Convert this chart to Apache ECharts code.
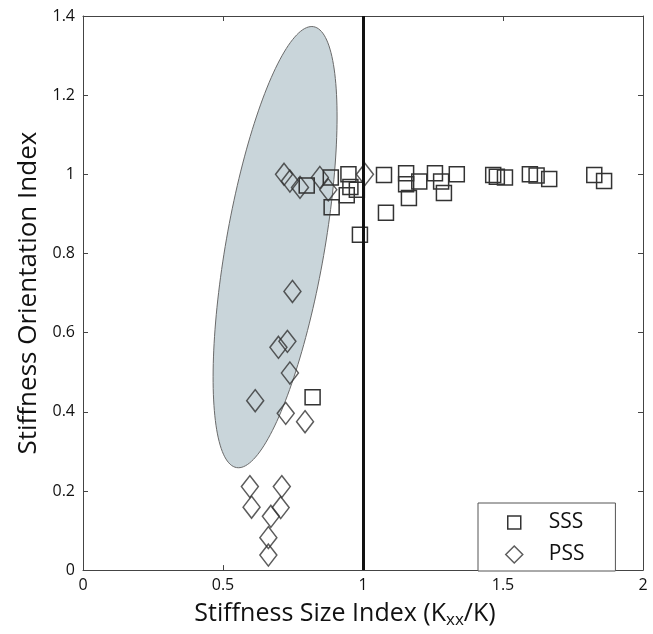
<!DOCTYPE html>
<html>
<head>
<meta charset="utf-8">
<script src="https://cdn.jsdelivr.net/npm/echarts@6/dist/echarts.min.js"></script>
<style>html,body{margin:0;padding:0;background:#fff;}#c{width:653px;height:634px;}</style>
</head>
<body>
<div id="c"></div>
<script>
// SSS (squares): [stiffness size index, stiffness orientation index]
var sssData = [
  [0.799,0.972],[0.885,0.992],[0.948,1.000],[0.942,0.947],[0.978,0.961],[0.955,0.968],
  [0.888,0.917],[0.989,0.847],[1.075,0.998],[1.082,0.903],[1.154,1.003],[1.154,0.975],
  [1.201,0.982],[1.164,0.940],[1.257,1.003],[1.279,0.982],[1.289,0.953],[1.335,1.000],
  [1.465,0.998],[1.478,0.994],[1.507,0.992],[1.596,1.000],[1.620,0.997],[1.665,0.988],
  [1.826,0.998],[1.861,0.983],[0.820,0.437]
];
// PSS (diamonds)
var pssData = [
  [0.718,1.000],[0.739,0.983],[0.775,0.967],[0.846,0.992],[0.876,0.961],[1.007,1.000],
  [0.748,0.704],[0.698,0.563],[0.730,0.578],[0.739,0.498],[0.615,0.428],[0.724,0.396],
  [0.793,0.375],[0.596,0.211],[0.602,0.159],[0.710,0.211],[0.706,0.158],[0.671,0.136],
  [0.662,0.082],[0.662,0.038]
];
// Shaded ellipse: centre and two conjugate semi-axis vectors (data units)
var ellipseCenter = [0.686, 0.816];
var ellipseAxisU = [0.1375, 0.557];
var ellipseAxisV = [0.1735, -0.021];
// reference line
var refLineX = 1;
var xTicks = [0, 0.5, 1, 1.5, 2];
var yTicks = [0, 0.2, 0.4, 0.6, 0.8, 1, 1.2, 1.4];

var FONT = '"Open Sans", "Noto Sans", sans-serif';
var markColor = '#333';
var diamondPath = 'path://M0,-11 L8.5,0 L0,11 L-8.5,0 Z';
var legendDiamond = 'path://M0,-9.5 M0,-8.5 L8.5,0 L0,8.5 L-8.5,0 Z M0,9.5';
var legendSquare = 'path://M-2,-3 M0,0 L13,0 L13,13 L0,13 Z M15,16';

var chart = echarts.init(document.getElementById('c'), null, {renderer:'canvas'});

function axisCommon(){
  return {
    axisLine:{show:true, onZero:false, lineStyle:{color:'#444', width:1}},
    axisTick:{show:true, inside:true, length:5, lineStyle:{color:'#444', width:1}},
    splitLine:{show:false}
  };
}

var option = {
  backgroundColor:'#fff',
  animation:false,
  grid:{left:83, top:16, right:10, bottom:58, containLabel:false},
  xAxis:[
    Object.assign({
      type:'value', min:xTicks[0], max:xTicks[xTicks.length-1], interval:0.5, position:'bottom',
      axisLabel:{color:'#111', fontSize:16, fontFamily:FONT, margin:7,
        formatter:function(v){return String(v);}},
      name:'{a|Stiffness Size Index (K}{s|xx}{a|/K)}',
      nameLocation:'middle', nameGap:25,
      nameTextStyle:{padding:[0,36,0,0], rich:{
        a:{fontSize:25, fontFamily:FONT, color:'#111', lineHeight:30},
        s:{fontSize:17, fontFamily:FONT, color:'#111', lineHeight:30, padding:[14,0,0,0]}
      }}
    }, axisCommon()),
    Object.assign({
      type:'value', min:xTicks[0], max:xTicks[xTicks.length-1], interval:0.5, position:'top',
      axisLabel:{show:false}
    }, axisCommon())
  ],
  yAxis:[
    Object.assign({
      type:'value', min:yTicks[0], max:yTicks[yTicks.length-1], interval:0.2, position:'left',
      axisLabel:{color:'#111', fontSize:16, fontFamily:FONT, margin:8,
        formatter:function(v){return String(Math.round(v*10)/10);}},
      name:'Stiffness Orientation Index', nameLocation:'middle', nameGap:40,
      nameTextStyle:{fontSize:26, fontFamily:FONT, color:'#111'}
    }, axisCommon()),
    Object.assign({
      type:'value', min:yTicks[0], max:yTicks[yTicks.length-1], interval:0.2, position:'right',
      axisLabel:{show:false}
    }, axisCommon())
  ],
  legend:{
    orient:'vertical', left:478, top:503,
    backgroundColor:'#fff', borderColor:'#555', borderWidth:1,
    padding:[9,31,6,27], itemGap:11, itemWidth:17, itemHeight:19,
    symbolKeepAspect:true,
    textStyle:{fontSize:21, fontFamily:FONT, color:'#111', padding:[0,0,0,21]},
    data:[
      {name:'SSS', icon:legendSquare, itemStyle:{color:'rgba(0,0,0,0)', borderColor:markColor, borderWidth:1.5}},
      {name:'PSS', icon:legendDiamond, itemStyle:{color:'rgba(0,0,0,0)', borderColor:markColor, borderWidth:1.5}}
    ]
  },
  series:[
    {
      type:'custom', name:'ellipse', silent:true, z:1,
      data:[[ellipseCenter[0], ellipseCenter[1]]],
      renderItem:function(params, api){
        var pts = [];
        var n = 180;
        for (var i=0;i<n;i++){
          var t = 2*Math.PI*i/n;
          var c = Math.cos(t), s = Math.sin(t);
          pts.push(api.coord([
            ellipseCenter[0] + c*ellipseAxisU[0] + s*ellipseAxisV[0],
            ellipseCenter[1] + c*ellipseAxisU[1] + s*ellipseAxisV[1]
          ]));
        }
        return {type:'polygon', shape:{points:pts},
          style:{fill:'#c9d5da', stroke:'#6a6a6a', lineWidth:1}};
      }
    },
    {
      type:'scatter', name:'SSS', z:3,
      symbol:'rect', symbolSize:15,
      itemStyle:{color:'rgba(0,0,0,0)', borderColor:markColor, borderWidth:1.5, opacity:1},
      data:sssData,
      markLine:{
        silent:true, symbol:['none','none'], label:{show:false},
        lineStyle:{color:'#111', width:3, type:'solid'},
        data:[{xAxis:refLineX}]
      }
    },
    {
      type:'scatter', name:'PSS', z:3,
      symbol:diamondPath, symbolSize:[17,22],
      itemStyle:{color:'rgba(0,0,0,0)', borderColor:markColor, borderWidth:1.5},
      data:pssData
    }
  ]
};
chart.setOption(option);
</script>
</body>
</html>
